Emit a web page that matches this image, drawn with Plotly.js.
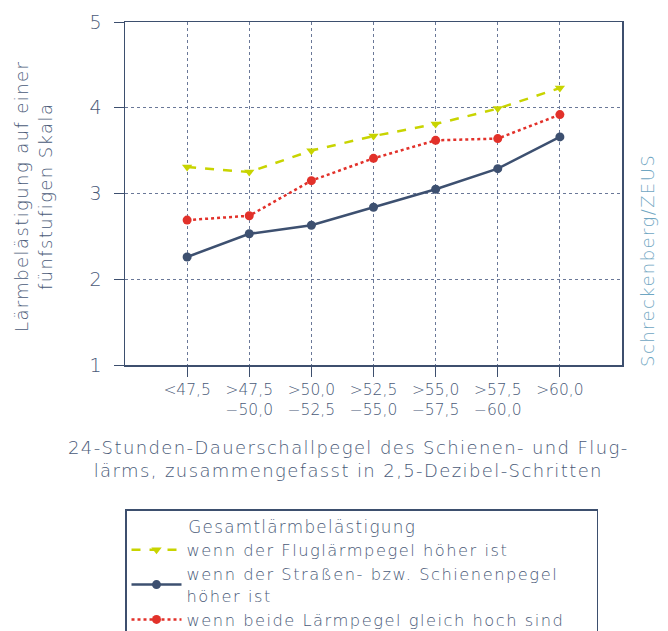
<!DOCTYPE html>
<html>
<head>
<meta charset="utf-8">
<script src="https://cdn.plot.ly/plotly-3.0.1.min.js"></script>
<style>
html,body{margin:0;padding:0;background:#fff;}
text.legendtext { letter-spacing: 1.5px; }
text.legendtitletext { letter-spacing: 1.3px; }
text.annotation-text { letter-spacing: 1.4px; }
</style>
</head>
<body>
<div id="chart" style="width:668px;height:631px;"></div>
<script>
const categories = ['&lt;47,5', '&gt;47,5<br>−50,0', '&gt;50,0<br>−52,5', '&gt;52,5<br>−55,0', '&gt;55,0<br>−57,5', '&gt;57,5<br>−60,0', '&gt;60,0'];
const seriesNames = ['wenn der Fluglärmpegel höher ist', 'wenn der Straßen- bzw. Schienenpegel<br>höher ist', 'wenn beide Lärmpegel gleich hoch sind\u00a0\u00a0\u00a0\u00a0'];
const fluglaerm = [3.31, 3.25, 3.50, 3.67, 3.81, 3.99, 4.23];
const strasseSchiene = [2.26, 2.53, 2.63, 2.84, 3.05, 3.29, 3.66];
const gleich = [2.69, 2.74, 3.15, 3.41, 3.62, 3.64, 3.92];
const yTicks = [1, 2, 3, 4, 5];

const textColor = '#4a5a78';
const axisColor = '#3d4f6e';
const fontFam = '"DejaVu Sans", sans-serif';

const traces = [
  {x: categories, y: fluglaerm, name: seriesNames[0], type: 'scatter', mode: 'lines+markers',
   line: {color: '#c8d400', width: 2.5, dash: 'dash'}, marker: {symbol: 'triangle-down', size: 9, color: '#c8d400'}},
  {x: categories, y: strasseSchiene, name: seriesNames[1], type: 'scatter', mode: 'lines+markers',
   line: {color: '#3d5070', width: 2.5}, marker: {symbol: 'circle', size: 9, color: '#3d5070'}},
  {x: categories, y: gleich, name: seriesNames[2], type: 'scatter', mode: 'lines+markers',
   line: {color: '#e2312a', width: 2.5, dash: 'dot'}, marker: {symbol: 'circle', size: 9, color: '#e2312a'}}
];

const layout = {
  width: 668, height: 631,
  margin: {l: 125, r: 46, t: 22, b: 266, autoexpand: false},
  paper_bgcolor: '#fff', plot_bgcolor: '#fff',
  font: {family: fontFam, color: textColor, size: 16, weight: 300},
  showlegend: true,
  xaxis: {
    type: 'category', range: [-1, 7],
    showline: true, linecolor: axisColor, linewidth: 1.5, mirror: true,
    showgrid: true, gridcolor: '#6a7898', griddash: 'dot', gridwidth: 1,
    ticks: 'outside', ticklen: 10, tickcolor: axisColor, tickwidth: 1,
    tickfont: {size: 15.5, color: textColor}, zeroline: false, fixedrange: true
  },
  yaxis: {
    range: [1, 5], tickvals: yTicks,
    showline: true, linecolor: axisColor, linewidth: 1.5, mirror: true,
    showgrid: true, gridcolor: '#6a7898', griddash: 'dot', gridwidth: 1,
    ticks: 'outside', ticklen: 10, tickcolor: axisColor, tickwidth: 1,
    ticklabelstandoff: 8,
    tickfont: {size: 19, color: textColor}, zeroline: false, fixedrange: true
  },
  legend: {
    x: 0, xanchor: 'left', y: -0.421, yanchor: 'top',
    bordercolor: axisColor, borderwidth: 1.5, bgcolor: '#fff',
    font: {size: 16.3, color: textColor},
    title: {text: '\u00a0\u00a0\u00a0\u00a0\u00a0\u00a0\u00a0\u00a0\u00a0Gesamtlärmbelästigung', font: {size: 16.8, color: textColor}, side: 'top'},
    tracegroupgap: 0, itemwidth: 50, traceorder: 'normal'
  },
  annotations: [
    {text: 'Lärmbelästigung auf einer<br>fünfstufigen Skala', xref: 'paper', yref: 'paper',
     x: -0.185, y: 0.49, textangle: -90, showarrow: false, font: {size: 18, color: textColor}, xanchor: 'center', yanchor: 'middle'},
    {text: '24-Stunden-Dauerschallpegel des Schienen- und Flug-<br>lärms, zusammengefasst in 2,5-Dezibel-Schritten', xref: 'paper', yref: 'paper',
     x: 0.449, y: -0.205, showarrow: false, font: {size: 18, color: textColor}, xanchor: 'center', yanchor: 'top'},
    {text: 'Schreckenberg/ZEUS', xref: 'paper', yref: 'paper',
     x: 1.05, y: 0.306, textangle: -90, showarrow: false, font: {size: 18, color: '#6fa6c2'}, xanchor: 'center', yanchor: 'middle'}
  ]
};

Plotly.newPlot('chart', traces, layout, {displayModeBar: false, staticPlot: true});
</script>
</body>
</html>
